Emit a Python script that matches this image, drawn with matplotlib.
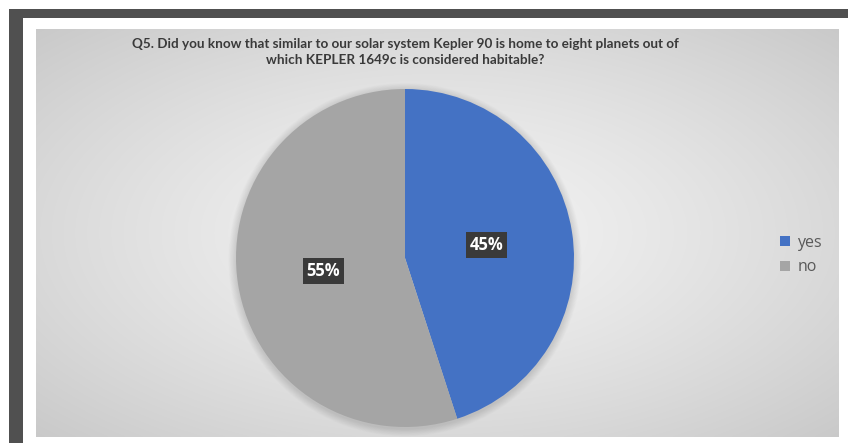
import numpy as np
import matplotlib
matplotlib.use("Agg")
import matplotlib.pyplot as plt
from matplotlib.patches import Rectangle, Circle

# Survey answers
categories = ["yes", "no"]
shares = [45, 55]
colors = ["#4472C4", "#A5A5A5"]
title = ("Q5. Did you know that similar to our solar system Kepler 90 is home to eight planets out of\n"
         "which KEPLER 1649c is considered habitable?")

W, H = 848, 443
fig = plt.figure(figsize=(W / 100, H / 100), dpi=100)
fig.patch.set_facecolor("white")


def px_axes(x0, y0, x1, y1, **kw):
    """Axes from pixel box given with a top-left origin."""
    return fig.add_axes([x0 / W, (H - y1) / H, (x1 - x0) / W, (y1 - y0) / H], **kw)


# dark frame along the top and left edges
frame = px_axes(0, 0, W, H)
frame.set_xlim(0, W)
frame.set_ylim(H, 0)
frame.axis("off")
frame.add_patch(Rectangle((9, 9), W - 9, 9, color="#505050", lw=0))
frame.add_patch(Rectangle((9, 9), 14, H - 9, color="#505050", lw=0))

# chart area with a soft radial gradient
panel = px_axes(36, 29, 838, 437)
panel.axis("off")
gx = np.linspace(-1, 1, 400)
gy = np.linspace(-1, 1, 200)
X, Y = np.meshgrid(gx, gy)
R = np.clip(np.sqrt(X ** 2 + Y ** 2) / np.sqrt(2), 0, 1)
light, dark = 0.955, 0.79
G = light - (light - dark) * R ** 1.3
panel.imshow(np.dstack([G, G, G]), extent=(0, 1, 0, 1), aspect="auto",
             interpolation="bilinear")
panel.set_xlim(0, 1)
panel.set_ylim(0, 1)

# pie
cx, cy, r = 405, 258, 169
pad = 12
ax = px_axes(cx - r - pad, cy - r - pad, cx + r + pad, cy + r + pad)
ax.axis("off")

# soft shadow around the pie
for k in range(10):
    ax.add_patch(Circle((0.0, -0.01), 1 + 0.045 * (10 - k) / 10,
                        color="black", alpha=0.012, lw=0, zorder=0))

wedges, _, autotexts = ax.pie(
    shares, colors=colors, startangle=90, counterclock=False,
    autopct="%d%%", pctdistance=0.49, radius=1,
    wedgeprops=dict(linewidth=0), textprops=dict(zorder=5))
for t in autotexts:
    t.set_color("white")
    t.set_fontweight("bold")
    t.set_fontsize(12)
    t.set_family("Open Sans")
    t.set_bbox(dict(boxstyle="square,pad=0.22", fc="#3a3a3a", ec="none"))

ax.set_xlim(-1 - pad / r, 1 + pad / r)
ax.set_ylim(-1 - pad / r, 1 + pad / r)
ax.set_aspect("equal")

# title
fig.text(405 / W, 1 - 38 / H, title, ha="center", va="top", fontsize=9.7,
         fontweight="bold", color="#3a3a3a", family="Lato",
         linespacing=1.45)

# legend
fig.legend(wedges, categories, loc="center left",
           bbox_to_anchor=(766 / W, 1 - 255 / H), frameon=False,
           handlelength=0.6, handleheight=0.6,
           handletextpad=0.45, labelspacing=0.55, labelcolor="#595959",
           prop=dict(family="Open Sans", size=11.5))

fig.savefig("out.png", dpi=100)
